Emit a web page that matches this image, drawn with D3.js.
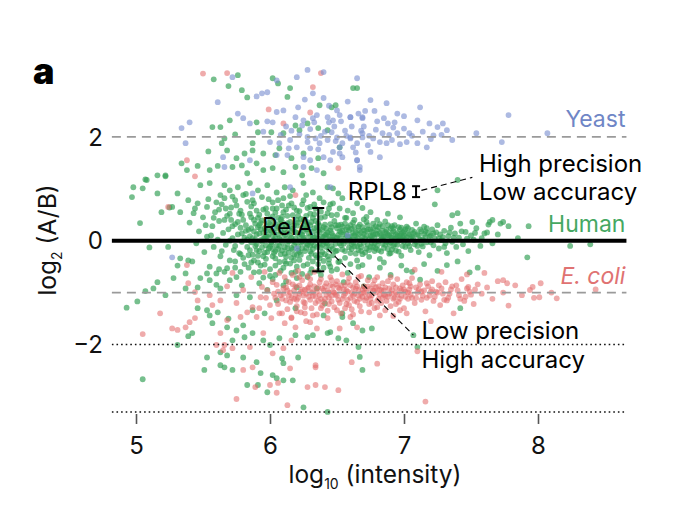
<!DOCTYPE html>
<html><head><meta charset="utf-8">
<script src="https://cdn.jsdelivr.net/npm/d3@7"></script>
<style>
html,body{margin:0;padding:0;background:#fff;}
svg text{font-family:Inter,Roboto,"Noto Sans",sans-serif;}
</style></head>
<body><svg id="c" width="680" height="519"></svg>
<script>
// ---- data: [log10 intensity, log2(A/B)] ----
const human = [
[5.84,0.21],[5.85,-0.18],[5.86,0.45],[5.86,-0.42],[5.87,0.05],[5.88,-0.61],[5.89,0.33],[5.90,-0.07],[5.90,0.58],[5.91,-0.29],[5.92,0.14],[5.93,-0.48],[5.94,0.39],[5.94,-0.02],[5.95,-0.71],[5.96,0.24],[5.97,-0.35],[5.98,0.52],[5.98,0.08],[5.99,-0.15],[6.00,0.31],[6.00,-0.55],[6.01,-0.03],[6.02,0.47],[6.03,-0.24],[6.03,0.16],[6.04,-0.66],[6.05,0.62],[6.05,-0.09],[6.06,0.27],[6.07,-0.41],[6.08,0.02],[6.08,0.41],[6.09,-0.19],[6.10,0.55],[6.10,-0.52],[6.11,0.11],[6.12,-0.31],[6.13,0.34],[6.13,-0.06],[6.14,0.68],[6.15,-0.44],[6.16,0.19],[6.16,-0.14],[6.17,0.49],[6.18,-0.27],[6.19,0.04],[6.19,-0.60],[6.20,0.29],[6.21,-0.11],[6.22,0.57],[6.22,-0.37],[6.23,0.13],[6.24,-0.02],[6.25,0.40],[6.25,-0.48],[6.26,-0.20],[6.27,0.22],[6.28,0.63],[6.28,-0.08],[6.29,-0.33],[6.30,0.09],[6.31,0.36],[6.31,-0.55],[6.32,-0.16],[6.33,0.51],[6.34,0.01],[6.34,-0.28],[6.35,0.26],[6.36,-0.45],[6.37,0.17],[6.37,-0.05],[6.38,0.44],[6.39,-0.22],[6.40,0.07],[6.40,-0.39],[6.41,0.31],[6.42,-0.12],[6.43,0.53],[6.43,-0.30],[6.44,0.03],[6.45,0.20],[6.45,-0.50],
[5.85,0.09],[5.87,-0.27],[5.88,0.18],[5.89,-0.10],[5.91,0.26],[5.92,-0.20],[5.93,0.01],[5.95,0.15],[5.96,-0.23],[5.97,0.07],[5.99,0.34],[6.00,-0.12],[6.01,0.19],[6.02,-0.30],[6.04,0.06],[6.05,0.24],[6.06,-0.16],[6.07,0.33],[6.09,-0.04],[6.10,0.14],[6.11,-0.25],[6.12,0.28],[6.14,-0.01],[6.15,0.10],[6.16,-0.33],[6.17,0.23],[6.18,-0.08],[6.20,0.15],[6.21,0.35],[6.22,-0.22],[6.23,-0.03],[6.24,0.25],[6.26,0.06],[6.27,-0.14],[6.28,0.31],[6.29,-0.01],[6.30,-0.21],[6.32,0.18],[6.33,-0.09],[6.34,0.38],[6.35,-0.32],[6.36,0.04],[6.38,-0.13],[6.39,0.21],[6.40,-0.02],[6.41,-0.26],[6.42,0.12],[6.44,-0.17],[6.45,0.32],
[5.86,-0.03],[5.90,0.12],[5.94,-0.13],[5.97,0.20],[6.01,-0.07],[6.03,0.01],[6.06,0.12],[6.08,-0.26],[6.11,0.22],[6.13,-0.15],[6.16,0.06],[6.19,0.17],[6.21,-0.19],[6.24,0.11],[6.26,0.30],[6.29,0.14],[6.31,-0.04],[6.33,0.07],[6.36,0.20],[6.38,-0.27],[6.41,0.11],[6.43,-0.06],
[6.46,0.15],[6.47,-0.28],[6.48,0.38],[6.49,-0.06],[6.50,0.24],[6.51,-0.41],[6.52,0.05],[6.53,0.31],[6.54,-0.17],[6.55,0.12],[6.56,-0.33],[6.57,0.44],[6.58,-0.02],[6.59,0.20],[6.60,-0.24],[6.61,0.09],[6.62,0.35],[6.63,-0.11],[6.64,0.02],[6.65,-0.38],[6.66,0.27],[6.67,-0.07],[6.68,0.16],[6.69,-0.26],[6.70,0.41],[6.71,0.04],[6.72,-0.15],[6.73,0.22],[6.74,-0.31],[6.75,0.10],[6.76,-0.04],[6.77,0.33],[6.78,-0.20],[6.79,0.14],[6.80,-0.09],[6.81,0.26],[6.82,-0.35],[6.83,0.03],[6.84,0.19],[6.85,-0.14],[6.86,0.37],[6.87,-0.02],[6.88,0.11],[6.89,-0.25],[6.90,0.24],[6.91,0.06],[6.92,-0.10],[6.93,0.30],[6.94,-0.19],[6.95,0.15],[6.96,0.00],[6.97,0.22],[6.98,-0.29],[6.99,0.08],[7.00,0.18],[7.01,-0.12],[7.02,0.27],[7.03,-0.05],[7.04,0.12],
[6.46,-0.10],[6.48,0.07],[6.50,-0.19],[6.52,0.18],[6.54,0.27],[6.55,-0.06],[6.57,0.13],[6.59,-0.13],[6.61,0.23],[6.62,-0.04],[6.64,0.16],[6.66,-0.18],[6.67,0.31],[6.69,0.07],[6.71,-0.23],[6.72,0.19],[6.74,0.03],[6.76,0.17],[6.77,-0.12],[6.79,0.28],[6.81,-0.01],[6.83,-0.21],[6.85,0.08],[6.87,0.21],[6.88,-0.16],[6.90,-0.03],[6.92,0.18],[6.94,0.05],[6.96,-0.21],[6.98,0.13],[7.00,-0.02],[7.02,0.07],
[6.47,0.02],[6.51,0.11],[6.53,-0.09],[6.56,0.04],[6.58,0.26],[6.60,0.02],[6.63,0.10],[6.65,-0.10],[6.68,0.01],[6.70,0.13],[6.73,-0.08],[6.75,0.22],[6.78,0.06],[6.80,0.12],[6.82,0.15],[6.84,-0.06],[6.86,0.03],[6.89,0.10],[6.91,0.28],[6.93,-0.07],[6.95,0.09],[6.97,0.10],[6.99,-0.10],[7.01,0.03],
[5.72,0.28],[5.74,-0.10],[5.76,0.36],[5.77,-0.24],[5.79,0.14],[5.80,-0.33],[5.82,0.30],[5.83,0.02],[5.84,-0.28],[5.86,0.24],[5.88,0.40],[5.89,0.02],[5.91,-0.42],[5.92,0.30],[5.93,0.22],[5.95,-0.30],[5.96,0.05],[5.98,-0.22],[5.99,0.12],[6.00,0.42],[6.02,-0.16],[6.03,0.35],[6.04,-0.34],[6.06,0.44],[6.07,-0.10],[6.08,0.18],[6.09,0.28],[6.11,-0.40],[6.12,0.04],[6.13,0.16],[6.14,-0.23],[6.15,0.36],[6.17,-0.17],[6.18,0.30],[6.19,-0.03],[6.20,-0.28],[6.22,0.08],[6.23,0.42],[6.24,-0.14],[6.25,0.18],[6.27,-0.05],[6.28,0.22],[6.30,0.30],[6.31,-0.25],[6.32,0.06],[6.33,0.24],[6.35,-0.12],[6.36,0.34],[6.37,-0.34],[6.39,0.08],[6.40,0.26],[6.42,-0.04],[6.43,0.16],[6.44,-0.36],[6.46,0.26],[6.47,0.10],[6.49,-0.20],[6.50,0.06],[6.51,0.30],[6.53,0.16],[6.54,-0.01],[6.56,-0.20],[6.57,0.22],[6.58,0.08],[6.60,0.30],[6.61,-0.16],[6.62,0.15],[6.64,-0.25],[6.65,0.07],[6.66,0.20],[6.68,-0.12],[6.69,0.26],[6.70,-0.04],[6.72,0.10],[6.73,0.30],[6.74,-0.18],[6.76,0.08],[6.77,0.24],[6.78,-0.05],[6.80,0.20],[6.81,-0.18],[6.83,0.10],[6.84,0.28],[6.86,-0.08],[6.87,0.14],[6.88,0.30],[6.90,0.06],[6.91,-0.17],[6.92,0.24],[6.94,0.12],[6.95,-0.08],[6.97,0.04],[6.98,0.25],[6.99,0.16],[7.01,0.22],[7.03,0.14],[7.04,-0.10],[7.06,0.08],[7.08,0.17],[7.09,-0.02],[7.11,0.10],[7.13,-0.06],[7.15,0.13],[7.17,0.24],[7.20,-0.03],[7.24,0.16],[7.29,0.07],
[5.90,-0.18],[5.93,0.34],[5.95,0.04],[5.97,-0.09],[6.00,0.21],[6.02,0.09],[6.04,-0.20],[6.07,0.05],[6.09,0.36],[6.11,-0.13],[6.14,0.27],[6.17,0.00],[6.18,-0.38],[6.20,0.40],[6.23,-0.27],[6.25,0.03],[6.27,0.37],[6.30,-0.10],[6.32,0.44],[6.35,0.12],[6.37,0.29],[6.39,-0.08],[6.42,0.23],[6.44,0.09],[6.47,-0.16],[6.49,0.30],[6.52,-0.05],[6.54,0.20],[6.56,0.33],[6.59,0.06],[6.61,-0.07],[6.63,0.26],[6.66,0.12],[6.68,-0.20],[6.70,0.20],[6.72,0.36],[6.75,-0.12],[6.77,0.12],[6.79,-0.15],[6.82,0.32],[6.84,0.07],[6.86,0.17],[6.89,-0.06],[6.91,0.15],[6.93,0.04],[6.96,0.26],[6.98,0.02],[7.00,0.10],[7.03,0.24],[7.05,0.04],[7.07,0.14],[7.10,-0.10],[7.12,0.22],[7.14,0.02],[7.16,0.18],[7.19,0.08],[7.22,0.14],[7.26,0.05],[7.30,-0.12],[7.34,0.16],[7.37,0.06],[7.43,0.18],[7.47,0.04],[7.53,0.15],[7.58,0.05],
[7.05,-0.18],[7.06,0.21],[7.07,0.05],[7.08,-0.07],[7.09,0.33],[7.10,0.12],[7.11,-0.22],[7.12,0.02],[7.13,0.18],[7.14,-0.11],[7.15,0.27],[7.16,0.07],[7.17,-0.03],[7.18,0.15],[7.19,-0.28],[7.20,0.10],[7.21,0.22],[7.22,-0.09],[7.23,0.04],[7.25,0.30],[7.26,-0.15],[7.27,0.12],[7.28,0.01],[7.30,0.19],[7.31,-0.05],[7.32,-0.24],[7.33,0.09],[7.35,0.25],[7.36,-0.02],[7.38,0.14],[7.39,-0.12],[7.41,0.06],[7.42,0.33],[7.44,-0.07],[7.46,0.17],[7.48,-0.20],[7.50,0.10],[7.52,0.02],[7.54,0.24],[7.57,-0.10],[7.60,0.14],[7.63,0.31],[7.66,-0.05],[7.70,0.12],[7.74,0.36],[7.78,0.28],[7.85,0.05],[7.93,0.28],[7.92,-0.32],[7.64,0.36],[7.72,0.33],[8.24,-0.10],[8.39,-0.07],[7.40,0.53],[7.66,0.40],[7.62,0.16],[7.23,0.70],[7.36,0.49],[7.51,0.36],[6.46,0.49],[6.75,0.55],[6.97,0.45],
[5.40,0.35],[5.42,-0.40],[5.44,0.62],[5.45,-0.05],[5.47,0.18],[5.48,-0.72],[5.50,0.45],[5.51,-0.22],[5.53,0.08],[5.54,0.80],[5.55,-0.50],[5.57,0.28],[5.58,-0.12],[5.59,0.55],[5.60,-0.85],[5.61,0.02],[5.62,0.38],[5.63,-0.30],[5.64,0.70],[5.65,0.15],[5.66,-0.60],[5.67,-0.08],[5.68,0.48],[5.69,0.22],[5.70,-0.38],[5.71,0.64],[5.72,0.05],[5.73,-0.18],[5.74,0.32],[5.75,-0.70],[5.76,0.12],[5.77,0.52],[5.78,-0.26],[5.79,-0.02],[5.80,0.40],[5.81,-0.45],[5.82,0.19],[5.83,0.75],[5.83,-0.12],[5.56,0.10],[5.62,-0.55],[5.66,0.40],[5.70,0.00],[5.74,-0.40],[5.78,0.25],[5.81,0.06],[5.72,0.85],[5.64,-0.20],[5.52,0.30],
[5.58,0.44],[5.63,0.88],[5.67,0.62],[5.71,0.40],[5.75,0.68],[5.79,0.50],[5.82,0.90],[5.85,0.52],[5.88,0.72],[5.91,0.44],[5.95,0.60],[5.99,0.80],[6.02,0.62],[6.06,0.78],[6.09,0.46],[6.12,0.60],[6.15,0.86],[6.18,0.64],[6.21,0.48],[6.24,0.70],[6.27,0.88],[6.30,0.52],[6.34,0.62],[6.37,0.82],[6.41,0.46],[6.45,0.70],[6.52,0.62],[6.56,0.44],[6.63,0.40],[6.72,0.46],[6.80,0.40],[6.88,0.52],
[5.58,3.11],[5.69,2.98],[5.76,3.19],[5.79,2.90],[5.83,2.76],[6.02,3.13],[6.06,3.03],[6.15,2.94],[6.13,2.77],[6.37,2.61],[6.46,2.57],[6.65,2.94],[6.62,2.94],[6.49,2.61],[5.70,2.32],[5.63,2.19],[5.57,2.19],[5.66,1.97],[5.74,2.05],[5.90,2.28],[5.91,2.09],[6.01,2.09],[6.10,2.07],[6.19,2.22],[6.22,2.13],[6.28,2.26],[6.36,2.17],[6.43,2.13],
[5.54,1.72],[5.64,1.88],[5.68,1.74],[5.75,1.59],[5.81,1.68],[5.87,1.88],[5.87,1.74],[5.95,1.68],[6.04,1.65],[6.07,1.78],[6.16,1.59],[6.25,1.68],[6.36,1.59],[6.52,1.80],[5.34,1.49],[5.38,1.36],[5.22,1.24],[5.46,1.44],[5.55,1.36],[5.61,1.44],[5.72,1.42],[5.79,1.45],[5.83,1.30],[5.90,1.49],[5.95,1.36],[6.02,1.40],[6.10,1.32],[6.19,1.42],[6.24,1.26],[6.31,1.40],[6.40,1.30],[7.40,1.17],[7.25,0.97],[6.47,1.01],
[5.08,1.17],[5.16,1.26],[5.48,1.07],[5.55,1.11],[5.66,1.07],[5.70,0.97],[5.76,1.03],[5.85,1.11],[5.91,0.97],[5.98,1.07],[6.05,0.93],[6.11,1.03],[6.17,0.97],[6.25,1.11],[6.32,0.93],[6.43,1.03],[6.51,0.91],[4.98,1.03],[4.97,0.84],[5.05,1.01],[5.07,1.18],[5.03,0.34],[5.16,0.91],[5.22,1.26],[5.19,0.55],[5.25,0.64],
[5.31,0.91],[5.39,0.78],[5.27,0.65],[5.33,0.55],[5.43,0.53],[5.46,0.72],[5.53,0.65],[5.60,0.74],[5.66,0.82],[5.74,0.78],[5.80,0.88],[5.87,0.78],[5.94,0.84],[6.02,0.74],[6.10,0.82],[6.16,0.72],[6.25,0.78],[6.30,0.65],[6.40,0.74],[6.47,0.72],[6.54,0.82],[6.65,0.72],[6.62,0.53],[6.69,0.63],
[5.62,0.60],[5.70,0.52],[5.78,0.58],[5.86,0.66],[5.92,0.50],[5.97,0.62],[6.04,0.54],[6.09,0.68],[6.13,0.48],[6.20,0.58],[6.27,0.48],[6.33,0.70],[6.38,0.56],[6.44,0.62],[6.50,0.50],[6.58,0.58],
[5.10,-0.13],[5.24,-0.12],[5.33,-0.34],[5.31,-0.48],[5.39,-0.38],[5.28,-0.72],[5.37,-0.63],[5.16,-0.80],[5.13,-0.92],[5.07,-0.97],[5.01,-1.17],[4.93,-1.29],[5.22,-1.05],[5.37,-0.92],[5.46,-0.90],[5.46,-1.30],[5.53,-1.34],[5.55,-1.44],[5.39,-1.84],[5.42,-1.78],[5.31,-2.01],[5.57,-1.59],[5.61,-1.38],[5.69,-1.50],[5.68,-1.67],[5.75,-1.73],[5.80,-1.63],[5.72,-1.92],[5.81,-1.86],[5.87,-1.78],[5.95,-1.92],[6.00,-2.01],[6.07,-1.88],[6.19,-1.82],[6.28,-1.86],[6.45,-1.76],[6.51,-1.88],[6.69,-1.73],[6.69,-2.49],[5.05,-2.67],
[5.53,-2.25],[5.51,-2.49],[5.63,-2.15],[5.68,-2.21],[5.63,-2.40],[5.66,-2.44],[5.72,-2.49],[5.80,-2.25],[5.83,-2.78],[5.90,-2.34],[5.93,-2.55],[5.91,-2.78],[5.98,-2.92],[6.02,-2.59],[6.05,-2.65],[6.10,-2.69],[6.09,-2.27],[6.17,-2.69],[6.21,-2.25],[6.10,-2.36],[6.25,-3.21],[6.43,-3.30],
[5.53,-0.63],[5.60,-0.63],[5.55,-0.76],[5.68,-0.53],[5.70,-0.76],[5.63,-0.92],[5.75,-1.05],[5.79,-0.86],[5.85,-1.09],[5.87,-1.34],[5.96,-1.40],[5.98,-0.95],[6.05,-1.15],[6.10,-0.86],[6.19,-1.30],[6.20,-0.90],[6.28,-0.70],[6.35,-0.92],[6.40,-1.44],[6.43,-1.78],[6.54,-1.40],[6.57,-1.92],[6.62,-1.59],[6.66,-2.05],[7.07,-1.82],[6.76,-1.69],[6.54,-1.47],[6.32,-1.82],[6.41,-1.21],[6.67,-2.24],[7.10,-2.05],
[6.50,-0.55],[6.58,-0.62],[6.66,-0.50],[6.74,-0.70],[6.82,-0.52],[6.90,-0.66],[6.98,-0.48],[7.06,-0.60],[7.15,-0.45],[7.25,-0.58],[7.40,-0.40],[7.55,-0.52],[6.55,-0.80],[6.70,-0.88],[6.85,-0.42],[7.12,-0.75],[7.42,-1.30],[6.69,-0.47],[6.90,-0.24],[7.02,-0.57],[7.32,-0.47],[7.49,-0.61],
[6.20,-0.72],[6.30,-0.62],[6.12,-0.78],[6.38,-0.66],[6.46,-0.58],[5.92,-0.82],[6.02,-0.74],
[5.84,-0.52],[5.88,-0.38],[5.92,-0.60],[5.96,-0.46],[6.00,-0.68],[6.04,-0.48],[6.08,-0.58],[6.12,-0.44],[6.16,-0.62],[6.20,-0.50],[6.24,-0.64],[6.28,-0.45],[6.32,-0.40],[6.36,-0.58],[6.40,-0.52],[6.44,-0.44],[6.52,-0.40],[6.60,-0.45],[5.78,-0.60],[5.74,-0.52]
];
const ecoli = [
[6.05,-0.85],[6.06,-1.22],[6.07,-0.62],[6.08,-1.05],[6.09,-1.40],[6.10,-0.92],[6.11,-0.70],[6.12,-1.15],[6.13,-1.32],[6.14,-0.80],[6.15,-1.00],[6.16,-1.48],[6.17,-0.66],[6.18,-1.12],[6.19,-0.88],[6.20,-1.26],[6.21,-0.58],[6.22,-1.02],[6.23,-1.38],[6.24,-0.76],[6.25,-1.18],[6.26,-0.95],[6.27,-1.55],[6.28,-0.68],[6.29,-1.08],[6.30,-0.84],[6.31,-1.30],[6.32,-0.98],[6.33,-0.60],[6.34,-1.20],[6.35,-1.42],[6.36,-0.90],[6.37,-1.05],[6.38,-0.74],[6.39,-1.25],[6.40,-0.96],[6.41,-1.12],[6.42,-0.82],[6.43,-1.35],[6.44,-1.00],[6.45,-0.70],[6.46,-1.17],[6.47,-0.88],[6.48,-1.28],[6.49,-1.04],[6.50,-0.78],[6.51,-1.14],[6.52,-0.93],[6.53,-1.40],[6.54,-0.65],[6.55,-1.06],[6.56,-0.86],[6.57,-1.22],[6.58,-0.98],[6.59,-0.72],[6.60,-1.10],[6.61,-1.32],[6.62,-0.90],[6.63,-1.02],[6.64,-0.80],[6.65,-1.18],[6.66,-0.95],[6.67,-1.26],[6.68,-0.68],[6.69,-1.08],[6.70,-0.88],[6.71,-1.15],[6.72,-0.99],[6.73,-0.76],[6.74,-1.22],[6.75,-0.92],[6.76,-1.05],[6.77,-0.84],[6.78,-1.30],[6.79,-1.00],[6.80,-0.70],[6.81,-1.12],[6.82,-0.94],[6.83,-1.20],[6.84,-0.82],[6.85,-1.04],
[6.06,-0.98],[6.09,-1.12],[6.12,-0.90],[6.15,-1.18],[6.18,-0.96],[6.21,-1.10],[6.24,-0.94],[6.27,-1.02],[6.30,-1.14],[6.33,-0.88],[6.36,-1.16],[6.39,-0.92],[6.42,-1.04],[6.45,-0.86],[6.48,-1.00],[6.51,-0.90],[6.54,-1.12],[6.57,-0.96],[6.60,-0.86],[6.63,-1.16],[6.66,-1.06],[6.69,-0.94],[6.72,-1.10],[6.75,-1.12],[6.78,-0.96],[6.81,-0.88],[6.84,-1.10],
[6.10,-1.02],[6.13,-0.96],[6.16,-1.10],[6.19,-1.04],[6.22,-0.86],[6.25,-1.06],[6.28,-0.92],[6.31,-1.00],[6.34,-1.08],[6.37,-0.80],[6.40,-1.18],[6.43,-0.96],[6.46,-1.06],[6.49,-0.84],[6.52,-1.20],[6.55,-0.94],[6.58,-1.14],[6.61,-1.00],[6.64,-0.92],[6.67,-1.12],[6.70,-1.00],[6.73,-0.88],[6.76,-1.20],[6.79,-0.90],[6.82,-1.04],[6.85,-0.96],[6.88,-1.08],[6.91,-1.02],[6.94,-0.90],[6.97,-1.12],[7.00,-0.94],[7.03,-1.00],[7.06,-1.10],[7.11,-0.94],[7.14,-1.06],[7.17,-0.82],[7.20,-0.98],[7.23,-1.08],[7.28,-0.92],[7.34,-1.02],[7.40,-0.96],[7.46,-1.08],[7.53,-0.94],
[6.14,-1.06],[6.17,-0.84],[6.20,-1.14],[6.23,-0.98],[6.26,-1.20],[6.29,-0.90],[6.32,-1.06],[6.35,-0.98],[6.38,-1.12],[6.41,-0.88],[6.44,-1.10],[6.47,-0.98],[6.50,-1.06],[6.53,-0.86],[6.56,-1.02],[6.59,-1.24],[6.62,-1.06],[6.65,-0.88],[6.68,-1.02],[6.71,-0.92],[6.74,-1.06],[6.77,-0.96],[6.80,-1.16],[6.83,-0.96],[6.86,-1.06],[6.89,-0.92],[6.92,-1.12],[6.95,-1.04],[6.98,-0.96],[7.01,-1.08],[7.05,-0.88],[7.09,-1.10],[7.13,-0.98],[7.17,-1.10],[7.21,-0.94],[7.25,-1.00],[7.30,-1.14],[7.36,-0.88],[7.42,-1.12],[7.50,-1.04],
[6.20,-1.36],[6.26,-1.28],[6.32,-1.44],[6.38,-1.30],[6.44,-1.22],[6.50,-1.34],[6.56,-1.30],[6.62,-1.42],[6.68,-1.36],[6.74,-1.38],[6.80,-1.28],[6.86,-1.34],[6.94,-1.22],[7.02,-1.40],[6.22,-0.70],[6.30,-0.74],[6.46,-0.76],[6.58,-0.80],[6.66,-0.70],[6.78,-0.76],[6.90,-0.70],[7.04,-0.82],[5.98,-0.96],[6.04,-1.10],
[6.86,-0.90],[6.87,-1.16],[6.88,-0.78],[6.89,-1.02],[6.90,-1.26],[6.91,-0.95],[6.92,-0.84],[6.93,-1.10],[6.94,-1.00],[6.95,-0.74],[6.96,-1.18],[6.97,-0.92],[6.98,-1.06],[6.99,-0.86],[7.00,-1.30],[7.01,-0.98],[7.02,-0.80],[7.03,-1.12],[7.04,-0.94],[7.05,-1.04],[7.06,-0.72],[7.08,-1.20],[7.09,-0.90],[7.10,-1.00],[7.12,-0.84],[7.13,-1.14],[7.15,-0.96],[7.16,-1.36],[7.18,-0.88],[7.19,-1.06],[7.21,-0.78],[7.22,-1.16],[7.24,-0.98],[7.26,-0.86],[7.27,-1.24],[7.29,-1.02],[7.31,-0.80],[7.33,-1.10],[7.35,-0.94],[7.37,-1.40],[7.39,-0.86],[7.41,-1.05],[7.43,-0.74],[7.45,-1.16],[7.47,-0.92],[7.49,-0.98],[7.52,-1.22],[7.55,-0.84],[7.58,-1.02],[7.62,-0.90],[7.66,-1.12],[7.70,-0.78],[7.74,-1.00],[7.78,-1.25],[7.83,-0.86],[7.88,-1.05],[7.94,-0.95],[8.02,-0.82],[8.10,-1.00],[7.97,-1.10],[7.60,-0.62],[7.47,-0.65],[7.28,-0.60],[7.08,-0.56],[6.92,-1.45],[7.20,-1.55],[7.74,-0.76],[8.01,-1.09],[8.14,-1.11],[7.96,-0.89],[7.77,-0.82],[7.48,-0.89],[8.43,-0.94],[6.82,-1.44],[6.97,-1.34],[7.32,-1.15],
[5.38,-0.47],[5.39,-0.82],[5.44,-0.99],[5.46,-1.15],[5.55,-1.05],[5.63,-1.15],[5.57,-1.24],[5.18,-1.40],[5.44,-1.49],[5.40,-1.57],[5.27,-1.69],[5.31,-1.72],[5.37,-1.67],[5.05,-1.80],[5.63,-1.78],[5.68,-1.53],[5.78,-1.47],[5.83,-1.38],[5.87,-1.28],[5.90,-1.47],[5.93,-1.09],[5.94,-0.89],[6.00,-1.24],[6.01,-1.49],[6.07,-1.40],[6.11,-1.59],[6.16,-1.49],[6.19,-1.67],[6.26,-1.40],[6.30,-1.57],[6.35,-1.69],[6.43,-1.49],[6.52,-1.69],[6.60,-1.47],[6.65,-1.67],
[5.60,-2.01],[5.66,-2.01],[5.65,-2.11],[5.72,-2.07],[5.85,-2.05],[5.95,-1.78],[6.02,-2.17],[6.10,-2.07],[6.16,-1.92],[5.80,-2.49],[5.87,-2.44],[5.89,-2.82],[6.00,-2.78],[6.06,-2.74],[6.05,-2.93],[5.75,-3.05],[6.13,-3.17],[6.28,-2.82],[6.34,-2.78],[6.41,-2.82],[6.34,-2.44],[6.51,-2.88],[6.15,-2.46],[6.80,-2.37],[6.61,-2.34],[6.34,-2.40],[7.10,-2.13],[7.16,-3.10],
[5.72,-0.62],[5.80,-0.95],[5.86,-0.70],[5.97,-1.10],[6.02,-0.80],[5.75,-1.20],[5.92,-1.30],[5.68,-0.88],[5.96,-0.60],[6.03,-1.02],
[5.68,3.23],[6.38,3.23],[6.32,2.96],[5.99,2.53],[6.10,2.26],[5.38,1.55],[5.44,1.24],[6.51,1.40],[5.24,0.65],[6.19,0.88],[6.30,2.47],[5.50,3.22]
];
const yeast = [
[5.40,2.28],[5.34,2.17],[5.37,1.88],[5.61,2.67],[5.72,3.15],[5.90,2.78],[5.94,2.84],[5.98,2.86],[6.05,3.09],[6.20,3.15],[6.28,3.29],[6.32,2.84],[6.40,3.25],[6.65,3.13],[5.76,2.45],[5.80,2.36],[5.85,2.26],[6.02,2.28],[6.05,2.48],[6.10,2.51],[6.19,2.38],[6.21,2.57],[6.25,2.32],[6.32,2.36],[6.35,2.42],[6.43,2.38],[6.47,2.32],[6.52,2.42],[6.60,2.38],[6.66,2.45],[6.69,2.36],
[6.00,1.90],[6.07,1.88],[6.15,1.94],[6.20,1.80],[6.28,1.90],[6.34,1.97],[6.37,1.88],[6.43,1.94],[6.50,1.99],[6.54,1.88],[6.60,1.97],[6.65,1.88],[6.69,1.99],[6.73,1.84],[6.05,1.65],[6.13,1.65],[6.25,1.61],[6.30,1.55],[6.40,1.61],[6.45,1.55],[6.54,1.61],[6.65,1.55],[6.67,1.42],[6.25,1.42],[6.35,1.36],[5.66,1.42],[5.65,1.61],[5.85,1.55],[6.45,1.03],[5.87,0.91],[6.15,1.03],
[6.50,2.51],[6.60,2.38],[6.69,2.38],[6.75,2.71],[6.87,2.65],[6.95,2.45],[6.88,2.26],[7.10,2.32],[7.12,2.57],[7.19,2.26],[7.25,2.19],[7.29,2.26],[7.32,2.13],[7.22,2.03],[7.78,2.42],[7.54,2.07],[7.73,1.90],[8.07,2.07],[6.60,1.99],[6.69,2.07],[6.77,1.97],[6.84,2.07],[6.91,1.94],[6.95,2.07],[7.02,1.90],[7.10,1.88],[7.17,1.80],[7.04,2.07],[6.87,1.88],[6.62,1.80],[6.52,1.80],[6.65,1.55],[6.67,1.36],[6.75,1.71],[6.82,1.61],[6.46,2.09],[6.47,1.71],
[6.22,2.05],[6.30,2.15],[6.38,2.02],[6.48,2.20],[6.56,2.12],[6.70,2.20],[6.80,2.30],[6.92,2.18],[7.00,2.40],[6.12,2.20],[5.95,2.10],[6.58,2.68],[6.78,2.50],[6.40,2.75],[5.27,-0.32],[6.20,-0.15],[6.58,0.10],
[6.24,2.22],[6.28,2.00],[6.33,2.28],[6.36,1.76],[6.41,2.10],[6.44,2.28],[6.49,1.92],[6.53,2.30],[6.57,2.02],[6.61,2.20],[6.64,1.70],[6.68,2.12],[6.71,2.50],[6.74,2.02],[6.79,2.14],[6.82,1.90],[6.85,2.36],[6.89,2.04],[6.93,2.28],[6.97,1.86],[7.00,2.16],[7.06,2.02],[7.14,2.10],[7.20,1.96],[7.28,2.04],[7.36,1.94],[6.16,2.12],[6.08,2.04],[5.98,2.30],[6.26,2.72],[6.44,2.60],[6.52,1.68],[6.30,1.78],[6.14,1.78]
];
const yTicks = [2, 0, -2];
const xTicks = [5, 6, 7, 8];
const dashedRefs = [2, -1];        // expected ratios (grey dashed)
const dottedRefs = [-2, -3.3];     // dotted guides
const relA = {x: 6.36, lo: -0.59, hi: 0.63};
const rpl8 = {x: 7.09, lo: 0.84, hi: 1.05};

// ---- scales ----
const svg = d3.select('#c');
const x = d3.scaleLinear().domain([5, 8]).range([136, 538]);
const y = d3.scaleLinear().domain([-2, 2]).range([344.5, 136.9]);
const xMin = 4.82, xMax = 8.66;

const pts = svg.append('g');
function draw(data, col, op) {
  pts.append('g').selectAll('circle').data(data).join('circle')
    .attr('cx', d => x(d[0])).attr('cy', d => y(d[1])).attr('r', 2.9)
    .attr('fill', col).attr('fill-opacity', op);
}
draw(human, '#35a057', 0.68);
draw(ecoli, '#e26a6a', 0.56);
draw(yeast, '#7a8fd0', 0.62);

// reference lines
svg.append('g').selectAll('line').data(dashedRefs).join('line')
  .attr('x1', x(xMin)).attr('x2', x(xMax)).attr('y1', d => y(d)).attr('y2', d => y(d))
  .attr('stroke', '#9a9a9a').attr('stroke-width', 1.8).attr('stroke-dasharray', '9,6');
svg.append('g').selectAll('line').data(dottedRefs).join('line')
  .attr('x1', x(xMin)).attr('x2', x(xMax)).attr('y1', d => y(d)).attr('y2', d => y(d))
  .attr('stroke', '#111').attr('stroke-width', 1.6).attr('stroke-dasharray', '1.6,3');
svg.append('line').attr('x1', x(xMin)).attr('x2', x(xMax)).attr('y1', y(0)).attr('y2', y(0))
  .attr('stroke', '#000').attr('stroke-width', 4);

// x axis (ticks only)
const xa = svg.append('g').attr('transform', `translate(0,${y(-3.3) + 2})`)
  .call(d3.axisBottom(x).tickValues(xTicks).tickSize(10).tickPadding(13).tickFormat(d3.format('d')));
xa.select('.domain').remove();
xa.selectAll('.tick line').attr('stroke', '#555').attr('stroke-width', 1.6);
xa.selectAll('.tick text').attr('font-size', 24).attr('fill', '#111').style('font-family', 'Inter, Roboto, sans-serif');

// y tick labels
svg.append('g').selectAll('text').data(yTicks).join('text')
  .attr('x', 103).attr('y', d => y(d)).attr('dy', '0.36em').attr('text-anchor', 'end')
  .attr('font-size', 24).attr('fill', '#111').text(d => d < 0 ? '\u2212' + Math.abs(d) : d);

// axis titles
const xt = svg.append('text').attr('x', 375).attr('y', 483).attr('text-anchor', 'middle').attr('font-size', 24.5).attr('fill', '#111');
xt.append('tspan').text('log');
xt.append('tspan').attr('font-size', 14).attr('dy', 6).text('10');
xt.append('tspan').attr('dy', -6).text(' (intensity)');
const yt = svg.append('text').attr('transform', 'translate(56,240) rotate(-90)').attr('text-anchor', 'middle').attr('font-size', 24.5).attr('fill', '#111');
yt.append('tspan').text('log');
yt.append('tspan').attr('font-size', 14).attr('dy', 6).text('2');
yt.append('tspan').attr('dy', -6).text(' (A/B)');

// panel letter
svg.append('text').attr('x', 33).attr('y', 84).attr('font-size', 36).attr('font-weight', 900).attr('fill', '#000').text('a');

// species labels
const lab = [
  {t: 'Yeast', yv: 2.2, c: '#6f86c6', it: false},
  {t: 'Human', yv: 0.16, c: '#45a862', it: false},
  {t: 'E. coli', yv: -0.83, c: '#e07272', it: true}
];
svg.append('g').selectAll('text').data(lab).join('text')
  .attr('x', x(xMax) - 1).attr('y', d => y(d.yv)).attr('text-anchor', 'end')
  .attr('font-size', 23).attr('fill', d => d.c).attr('font-style', d => d.it ? 'italic' : 'normal').text(d => d.t);

// error bars
function ebar(e, cap) {
  const g = svg.append('g').attr('stroke', '#000').attr('stroke-width', 2);
  g.append('line').attr('x1', x(e.x)).attr('x2', x(e.x)).attr('y1', y(e.lo)).attr('y2', y(e.hi));
  g.append('line').attr('x1', x(e.x) - cap).attr('x2', x(e.x) + cap).attr('y1', y(e.lo)).attr('y2', y(e.lo));
  g.append('line').attr('x1', x(e.x) - cap).attr('x2', x(e.x) + cap).attr('y1', y(e.hi)).attr('y2', y(e.hi));
}
ebar(relA, 6);
ebar(rpl8, 4);

// leader lines
svg.append('line').attr('x1', x(6.43)).attr('y1', y(-0.16)).attr('x2', x(7.07)).attr('y2', y(-1.82))
  .attr('stroke', '#000').attr('stroke-width', 1.1).attr('stroke-dasharray', '6,4');
svg.append('line').attr('x1', x(7.13)).attr('y1', y(0.97)).attr('x2', x(7.51)).attr('y2', y(1.22))
  .attr('stroke', '#000').attr('stroke-width', 1.1).attr('stroke-dasharray', '6,4');

// annotation texts
const ann = [
  {t: 'RelA', xv: 5.94, yv: 0.11},
  {t: 'RPL8', xv: 6.58, yv: 0.78},
  {t: 'High precision', xv: 7.56, yv: 1.32},
  {t: 'Low accuracy', xv: 7.56, yv: 0.78},
  {t: 'Low precision', xv: 7.13, yv: -1.90},
  {t: 'High accuracy', xv: 7.13, yv: -2.46}
];
svg.append('g').selectAll('text').data(ann).join('text')
  .attr('x', d => x(d.xv)).attr('y', d => y(d.yv)).attr('font-size', 24).attr('fill', '#000').text(d => d.t);
</script></body></html>
